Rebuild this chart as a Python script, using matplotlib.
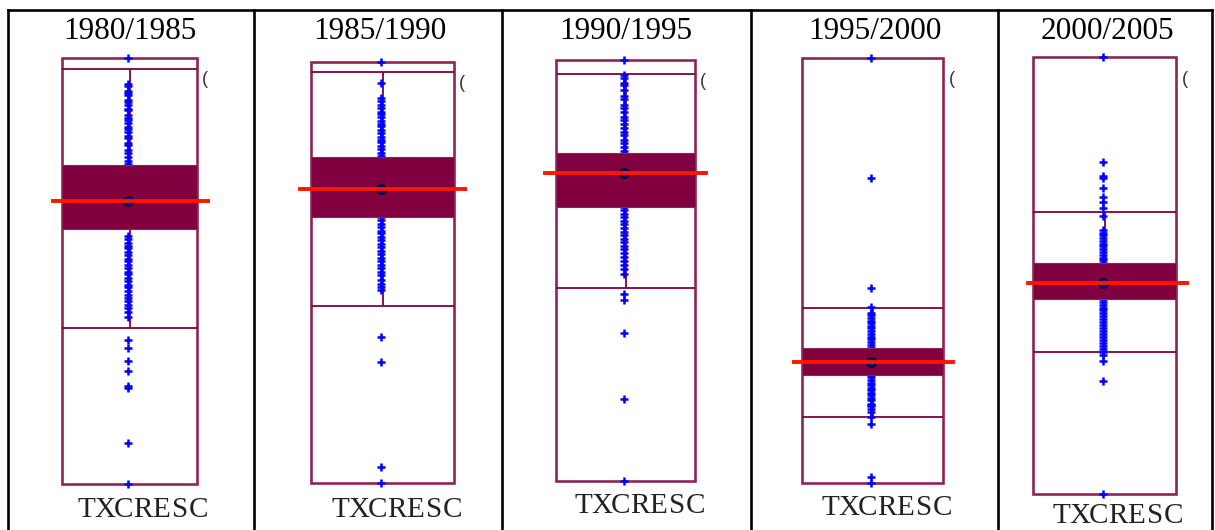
import matplotlib.pyplot as plt
import numpy as np
from matplotlib.patches import Rectangle
from matplotlib.lines import Line2D

W, H = 1215, 530          # [px]

# Periods (one table cell each)
periods = ['1980/1985', '1985/1990', '1990/1995', '1995/2000', '2000/2005']

# TXCRESC observations per period
txcresc_8085 = [30.6, 28.0, 27.8, 27.3, 27.1, 26.9, 26.4, 26.2, 25.9, 25.5, 25.4, 24.9,
                24.6, 24.4, 24.1, 23.7, 23.5, 23.2, 22.8, 22.6, 22.1, 21.9, 21.4, 21.1,
                20.7, 20.3, 20.0, 19.8, 16.3, 12.8, 12.5, 12.1, 11.8, 11.6, 11.2, 10.9,
                10.5, 10.3, 9.9, 9.6, 9.2, 9.0, 8.6, 8.3, 7.9, 7.7, 7.3, 6.9, 6.6, 6.3,
                5.9, 5.6, 5.2, 4.7, 2.4, 1.6, 0.3, -0.7, -2.2, -2.4, -7.9, -12.0]
txcresc_8590 = [32.1, 30.0, 28.5, 28.2, 27.8, 27.5, 27.1, 26.9, 26.6, 26.2, 25.9, 25.7,
                25.3, 25.0, 24.6, 24.3, 24.1, 23.7, 23.4, 23.0, 22.7, 22.4, 19.4, 16.6,
                16.3, 15.9, 15.6, 15.2, 15.0, 14.6, 14.3, 13.9, 13.6, 13.2, 12.9, 12.5,
                12.2, 11.8, 11.5, 11.1, 10.8, 10.3, 9.9, 9.6, 9.3, 4.6, 2.1, -8.4, -10.0]
txcresc_9095 = [34.1, 32.6, 32.3, 31.8, 31.6, 31.1, 30.5, 30.2, 29.6, 29.3, 28.9, 28.4,
                28.1, 27.7, 27.3, 26.9, 26.6, 26.1, 25.8, 25.4, 25.0, 24.5, 22.8, 19.4,
                19.1, 18.7, 18.4, 18.0, 17.7, 17.3, 16.9, 16.6, 16.2, 15.9, 15.5, 15.2,
                14.8, 14.4, 14.0, 13.6, 13.2, 12.7, 10.7, 10.1, 6.8, 0.2, -8.0]
txcresc_9500 = [36.5, 24.5, 13.5, 11.6, 11.0, 10.8, 10.5, 10.2, 10.0, 9.7, 9.5, 9.2,
                8.9, 8.6, 8.4, 8.1, 7.8, 7.5, 6.1, 4.8, 4.6, 4.3, 4.0, 3.8, 3.5, 3.3,
                3.0, 2.8, 2.5, 2.3, 1.9, 1.8, 1.7, 1.4, 1.1, 0.6, -0.1, -5.4, -6.0]
txcresc_0005 = [39.7, 29.2, 27.8, 27.6, 26.6, 25.7, 25.2, 24.6, 23.8, 22.4, 22.1, 21.9,
                21.6, 21.3, 21.0, 20.8, 20.5, 20.2, 19.9, 19.6, 19.4, 19.1, 17.1, 15.5,
                15.2, 14.9, 14.6, 14.4, 14.1, 13.8, 13.5, 13.2, 12.9, 12.6, 12.3, 12.0,
                11.7, 11.4, 11.1, 10.8, 10.5, 10.2, 9.9, 9.3, 7.3, -4.0]
series = [txcresc_8085, txcresc_8590, txcresc_9095, txcresc_9500, txcresc_0005]

# summary lines per period
centre   = [16.3, 19.4, 22.8, 6.1, 17.1]     # red line + circled point
band_lo  = [13.5, 16.6, 19.4, 4.8, 15.5]
band_hi  = [19.9, 22.6, 24.8, 7.5, 19.1]
inner_lo = [3.6, 7.7, 11.3, 0.6, 10.2]
inner_hi = [29.5, 31.1, 32.7, 11.5, 24.2]

var_name = 'TXCRESC'

# layout [px]: box left, right, top, bottom
box_l = [62, 311, 556, 802, 1033]
box_r = [197, 454, 695, 943, 1176]
box_t = [58, 62, 60, 58, 57]
box_b = [484, 483, 481, 483, 494]
red_l = [53, 300, 545, 794, 1028]
red_r = [208, 465, 706, 953, 1187]
title_x = [130, 380, 626, 875, 1107]
lab_x = [77, 331, 574, 821, 1052]      # left edge of the variable label
lab_y = [517, 517, 513, 515, 523]
paren_x = [202, 459, 700, 949, 1182]
paren_y = [84, 88, 86, 84, 84]
cell_lines = [8, 254, 502, 751, 998, 1212]
CHAR_STEP = 18.7                       # typewriter pitch [px]

OUTLINE = '#8e2456'
DARK = '#800040'
RED = '#ff1500'
BLUE = '#0000ff'

fig = plt.figure(figsize=(W / 100, H / 100), dpi=100)
fig.patch.set_facecolor('white')

# table grid
for x in cell_lines:
    fig.add_artist(Line2D([x / W, x / W], [0, 1 - 10 / H], color='black', lw=1.9))
fig.add_artist(Line2D([cell_lines[0] / W, cell_lines[-1] / W], [1 - 10 / H, 1 - 10 / H],
                      color='black', lw=1.9))

for i, vals in enumerate(series):
    vals = np.array(vals)
    vmin, vmax = vals.min(), vals.max()
    l, r, t, b = box_l[i], box_r[i], box_t[i], box_b[i]
    ax = fig.add_axes([l / W, 1 - b / H, (r - l) / W, (b - t) / H])
    ax.set_xlim(0, 1)
    ax.set_ylim(vmin, vmax)
    ax.axis('off')

    pts_x = 0.5 - 1.5 / (r - l)

    # outer box: min to max
    ax.add_patch(Rectangle((0, vmin), 1, vmax - vmin, fill=False, edgecolor=OUTLINE,
                           lw=1.9, clip_on=False, zorder=1))
    # inner box with centre stem
    ax.hlines([inner_lo[i], inner_hi[i]], 0, 1, color=DARK, lw=1.3, zorder=1)
    ax.vlines(0.5, inner_lo[i], inner_hi[i], color=DARK, lw=1.3, zorder=1)

    # observations
    ax.plot(np.full(len(vals), pts_x), vals, linestyle='none', marker='+', color=BLUE,
            ms=6, mew=1.8, clip_on=False, zorder=2)

    # shaded band
    ax.add_patch(Rectangle((0, band_lo[i]), 1, band_hi[i] - band_lo[i], facecolor=DARK,
                           edgecolor=OUTLINE, lw=0.8, zorder=3))
    ax.plot([pts_x], [centre[i]], marker='o', ms=6.5, mfc=BLUE, mec='black', mew=1.2,
            zorder=4)

    # red centre line
    x0 = (red_l[i] - l) / (r - l)
    x1 = (red_r[i] - l) / (r - l)
    ax.plot([x0, x1], [centre[i], centre[i]], color=RED, lw=2.8, clip_on=False, zorder=5)

    fig.text(title_x[i] / W, 1 - 39 / H, periods[i], ha='center', va='baseline',
             family='Liberation Serif', fontsize=22.5, color='black')
    # variable label, set letter by letter on a fixed pitch
    for k, ch in enumerate(var_name):
        cx = lab_x[i] + CHAR_STEP * (k + 0.5)
        fig.text(cx / W, 1 - lab_y[i] / H, ch, ha='center', va='baseline',
                 family='Liberation Serif', fontsize=21, color='#222222')
    fig.text(paren_x[i] / W, 1 - paren_y[i] / H, '(', ha='left', va='baseline',
             family='Liberation Sans', fontsize=13, color='#333333')

fig.savefig('out.png', dpi=100)
